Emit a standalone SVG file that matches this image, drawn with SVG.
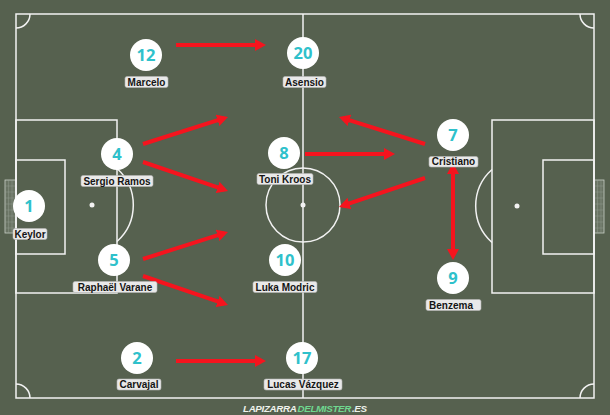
<svg xmlns="http://www.w3.org/2000/svg" width="610" height="415" viewBox="0 0 610 415">
<style>
.pitch{fill:none;stroke:#f2f2f2;stroke-width:1.5}
.spot{fill:#f2f2f2}
.net{fill:#6a7464;stroke:#c9cfc6;stroke-width:0.8}
.netl{stroke:#9aa497;stroke-width:0.4}
.pc{fill:#ffffff}
.num{font-family:"Open Sans","Liberation Sans",sans-serif;font-weight:700;font-size:16.5px;fill:#2fc1cb;text-anchor:middle}
.lb{fill:#e9e9e9;stroke:#b5b5b5;stroke-width:0.6}
.lt{font-family:"Liberation Sans",Arial,sans-serif;font-weight:700;font-size:10px;fill:#151515;text-anchor:middle}
.arr{stroke:#f5141e;stroke-width:4;fill:none}
.wm{font-family:"Liberation Sans",Arial,sans-serif;font-weight:700;font-style:italic;font-size:9.8px;letter-spacing:-0.35px}
.wmw{fill:#eef2ec}
.wmg{fill:#6fd88f}
</style>
<defs>
<marker id="ah" markerUnits="userSpaceOnUse" markerWidth="12" markerHeight="12" refX="7" refY="6" orient="auto">
<path d="M0,0 L11,6 L0,12 z" fill="#f5141e"/>
</marker>
<marker id="ahs" markerUnits="userSpaceOnUse" markerWidth="12" markerHeight="12" refX="7" refY="6" orient="auto-start-reverse">
<path d="M0,0 L11,6 L0,12 z" fill="#f5141e"/>
</marker>
</defs>
<rect x="0" y="0" width="610" height="415" fill="#56614f"/>
<g id="pitch">
<rect class="net" x="5" y="180" width="11" height="53"/>
<path class="netl" d="M5,186H16M5,192H16M5,198H16M5,204H16M5,210H16M5,216H16M5,222H16M5,228H16M8.5,180V233M12,180V233"/>
<rect class="net" x="594" y="180" width="10" height="53"/>
<path class="netl" d="M594,186H604M594,192H604M594,198H604M594,204H604M594,210H604M594,216H604M594,222H604M594,228H604M597.5,180V233M601,180V233"/>
<rect class="pitch" x="16" y="14" width="578" height="384"/>
<line class="pitch" x1="303" y1="14" x2="303" y2="398"/>
<circle class="pitch" cx="303" cy="205" r="37"/>
<circle class="spot" cx="303" cy="205" r="2.5"/>
<rect class="pitch" x="16" y="120" width="101" height="173"/>
<rect class="pitch" x="16" y="160" width="49" height="94"/>
<circle class="spot" cx="92" cy="205" r="2.5"/>
<path class="pitch" d="M117,168.5 A49,49 0 0 1 117,241.5"/>
<rect class="pitch" x="492" y="120" width="102" height="173"/>
<rect class="pitch" x="543" y="160" width="51" height="94"/>
<circle class="spot" cx="517" cy="206" r="2.5"/>
<path class="pitch" d="M492,169.5 A49,49 0 0 0 492,242.5"/>
<path class="pitch" d="M16,28 A14,14 0 0 0 30,14"/>
<path class="pitch" d="M580,14 A14,14 0 0 0 594,28"/>
<path class="pitch" d="M16,384 A14,14 0 0 1 30,398"/>
<path class="pitch" d="M580,398 A14,14 0 0 1 594,384"/>
</g>
<g id="connectors">
<line class="arr" x1="176" y1="45" x2="262" y2="45" marker-end="url(#ah)"/>
<line class="arr" x1="143" y1="144" x2="224.2" y2="118.2" marker-end="url(#ah)"/>
<line class="arr" x1="143" y1="162" x2="224.2" y2="189.7" marker-end="url(#ah)"/>
<line class="arr" x1="305" y1="154" x2="391" y2="154" marker-end="url(#ah)"/>
<line class="arr" x1="425" y1="144" x2="342.8" y2="118.2" marker-end="url(#ah)"/>
<line class="arr" x1="425" y1="178" x2="342.8" y2="205.7" marker-end="url(#ah)"/>
<line class="arr" x1="453" y1="167" x2="453" y2="256" marker-start="url(#ahs)" marker-end="url(#ahs)"/>
<line class="arr" x1="143" y1="259" x2="224.2" y2="233.2" marker-end="url(#ah)"/>
<line class="arr" x1="143" y1="276" x2="224.2" y2="303.7" marker-end="url(#ah)"/>
<line class="arr" x1="176" y1="361" x2="262" y2="361" marker-end="url(#ah)"/>
</g>
<g id="p12"><circle class="pc" cx="146" cy="55" r="16"/><text class="num" x="146" y="61">12</text><rect class="lb" x="125" y="76.5" width="43" height="11" rx="2"/><text class="lt" x="146.5" y="85.5">Marcelo</text></g>
<g id="p20"><circle class="pc" cx="303" cy="53" r="16"/><text class="num" x="303" y="59">20</text><rect class="lb" x="283" y="76.5" width="43" height="11" rx="2"/><text class="lt" x="304.5" y="85.5">Asensio</text></g>
<g id="p4"><circle class="pc" cx="117" cy="154" r="16"/><text class="num" x="117" y="160">4</text><rect class="lb" x="81" y="175.5" width="72" height="11" rx="2"/><text class="lt" x="117" y="184.5">Sergio Ramos</text></g>
<g id="p8"><circle class="pc" cx="284" cy="153" r="16"/><text class="num" x="284" y="159">8</text><rect class="lb" x="257" y="173.5" width="56" height="11" rx="2"/><text class="lt" x="285" y="182.5">Toni Kroos</text></g>
<g id="p7"><circle class="pc" cx="453" cy="135" r="16"/><text class="num" x="453" y="141">7</text><rect class="lb" x="429" y="156.5" width="49" height="10.5" rx="2"/><text class="lt" x="453.5" y="165">Cristiano</text></g>
<g id="p1"><circle class="pc" cx="29" cy="206" r="16"/><text class="num" x="29" y="212">1</text><rect class="lb" x="13" y="228.5" width="34" height="11" rx="2"/><text class="lt" x="30" y="237.5">Keylor</text></g>
<g id="p5"><circle class="pc" cx="114" cy="260" r="16"/><text class="num" x="114" y="266">5</text><rect class="lb" x="73" y="281.5" width="84" height="11" rx="2"/><text class="lt" x="115" y="290.5">Raphaël Varane</text></g>
<g id="p10"><circle class="pc" cx="285" cy="260" r="16"/><text class="num" x="285" y="266">10</text><rect class="lb" x="253" y="281.5" width="64" height="11" rx="2"/><text class="lt" x="285" y="290.5">Luka Modric</text></g>
<g id="p9"><circle class="pc" cx="453" cy="278" r="16"/><text class="num" x="453" y="284">9</text><rect class="lb" x="426" y="299.5" width="55" height="11" rx="2"/><text class="lt" x="451" y="308.5">Benzema</text></g>
<g id="p2"><circle class="pc" cx="137" cy="358" r="16"/><text class="num" x="137" y="364">2</text><rect class="lb" x="117" y="379" width="44" height="11" rx="2"/><text class="lt" x="139" y="388">Carvajal</text></g>
<g id="p17"><circle class="pc" cx="302" cy="358" r="16"/><text class="num" x="302" y="364">17</text><rect class="lb" x="264" y="379" width="78" height="11" rx="2"/><text class="lt" x="303" y="388">Lucas Vázquez</text></g>
<g id="watermark">
<text class="wm wmw" x="243" y="412">LAPIZARRA</text>
<text class="wm wmg" x="297.5" y="412">DELMISTER</text>
<text class="wm wmw" x="352" y="412">.ES</text>
</g>
</svg>
